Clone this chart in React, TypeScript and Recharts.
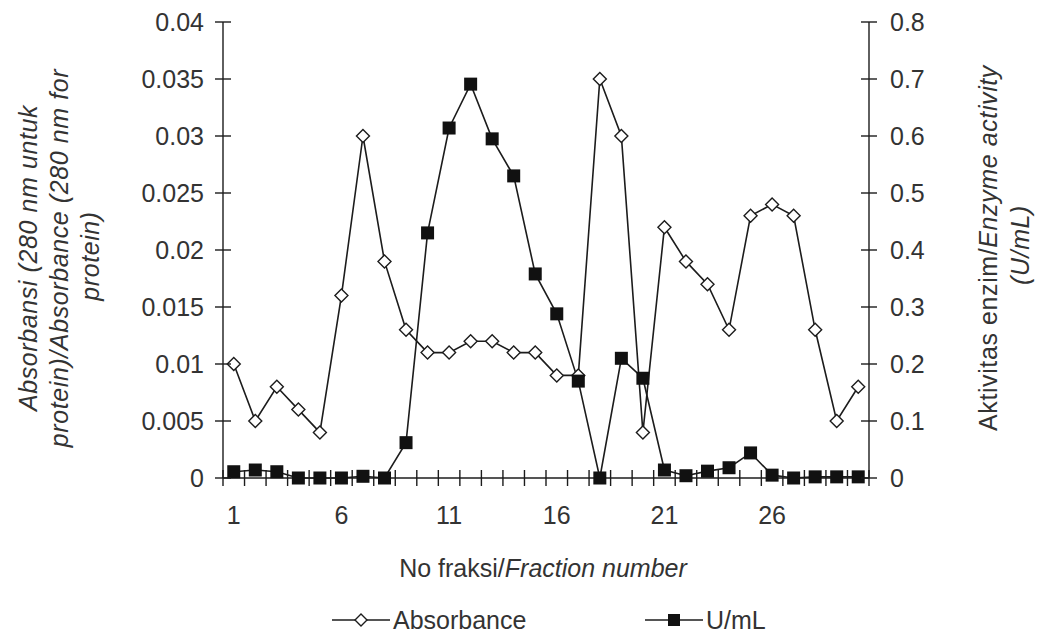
import React from "react";
import { LineChart, Line, XAxis, YAxis } from "recharts";

const fractions = [1, 2, 3, 4, 5, 6, 7, 8, 9, 10, 11, 12, 13, 14, 15, 16, 17, 18, 19, 20, 21, 22, 23, 24, 25, 26, 27, 28, 29, 30];
const absorbance = [0.01, 0.005, 0.008, 0.006, 0.004, 0.016, 0.03, 0.019, 0.013, 0.011, 0.011, 0.012, 0.012, 0.011, 0.011, 0.009, 0.009, 0.035, 0.03, 0.004, 0.022, 0.019, 0.017, 0.013, 0.023, 0.024, 0.023, 0.013, 0.005, 0.008];
const enzymeActivity = [0.011, 0.014, 0.011, 0, 0, 0, 0.003, 0, 0.062, 0.43, 0.614, 0.691, 0.595, 0.53, 0.358, 0.288, 0.17, 0, 0.21, 0.175, 0.014, 0.004, 0.012, 0.018, 0.044, 0.005, 0, 0.002, 0.002, 0.002];
const xTickLabels = [1, 6, 11, 16, 21, 26];
const leftTicks = [0, 0.005, 0.01, 0.015, 0.02, 0.025, 0.03, 0.035, 0.04];
const rightTicks = [0, 0.1, 0.2, 0.3, 0.4, 0.5, 0.6, 0.7, 0.8];

const data = fractions.map((f, i) => ({ fraction: f, absorbance: absorbance[i], activity: enzymeActivity[i] }));

// tick marks sit on the boundaries between fractions, labels on the fractions
const boundaries = fractions.map((f) => f - 0.5).concat(fractions[fractions.length - 1] + 0.5);
const xTicks = [...boundaries, ...xTickLabels].sort((a, b) => a - b);

const FONT = "'Liberation Sans', Arial, sans-serif";
const INK = "#1c1c1c";
const TEXT = "#333";

const XTick = ({ x, y, payload }: any) => {
  const v = payload.value;
  if (v % 1 !== 0) {
    return <line x1={x} x2={x} y1={y - 8} y2={y + 8} stroke={INK} strokeWidth={1.4} />;
  }
  return (
    <text x={x} y={y + 37} textAnchor="middle" dominantBaseline="central" fontSize={25} fill={TEXT} fontFamily={FONT}>
      {v}
    </text>
  );
};

const LeftTick = ({ x, y, payload }: any) => (
  <g>
    <line x1={x - 8} x2={x + 8} y1={y} y2={y} stroke={INK} strokeWidth={1.4} />
    <text x={x - 19} y={y} textAnchor="end" dominantBaseline="central" fontSize={25} fill={TEXT} fontFamily={FONT}>
      {payload.value}
    </text>
  </g>
);

const RightTick = ({ x, y, payload }: any) => (
  <g>
    <line x1={x - 8} x2={x + 8} y1={y} y2={y} stroke={INK} strokeWidth={1.4} />
    <text x={x + 21} y={y} textAnchor="start" dominantBaseline="central" fontSize={25} fill={TEXT} fontFamily={FONT}>
      {payload.value}
    </text>
  </g>
);

const rotated = (x: number, y: number, content: React.ReactNode, key: string) => (
  <text
    key={key}
    x={x}
    y={y}
    transform={`rotate(-90, ${x}, ${y})`}
    textAnchor="middle"
    dominantBaseline="central"
    fontSize={25}
    letterSpacing={0.6}
    fill={TEXT}
    fontFamily={FONT}
  >
    {content}
  </text>
);

const LeftTitle = () => (
  <g fontStyle="italic">
    {rotated(28, 258, "Absorbansi (280 nm untuk", "l1")}
    {rotated(59, 258, "protein)/Absorbance (280 nm for", "l2")}
    {rotated(90, 256, "protein)", "l3")}
  </g>
);

const RightTitle = () => (
  <g>
    {rotated(988, 248, <>Aktivitas enzim/<tspan fontStyle="italic">Enzyme activity</tspan></>, "r1")}
    {rotated(1020, 245, <tspan fontStyle="italic">(U/mL)</tspan>, "r2")}
  </g>
);

const XTitle = () => (
  <text x={543} y={568} textAnchor="middle" dominantBaseline="central" fontSize={25} fill={TEXT} fontFamily={FONT}>
    No fraksi/<tspan fontStyle="italic">Fraction number</tspan>
  </text>
);

const DiamondDot = (props: any) => {
  const { cx, cy, index } = props;
  const r = 6.5;
  return (
    <path
      key={`d-${index}`}
      d={`M${cx},${cy - r}L${cx + r},${cy}L${cx},${cy + r}L${cx - r},${cy}Z`}
      fill="#fff"
      stroke={INK}
      strokeWidth={1.4}
    />
  );
};

const SquareDot = (props: any) => {
  const { cx, cy, index } = props;
  return <rect key={`s-${index}`} x={cx - 6.5} y={cy - 6.5} width={13} height={13} fill="#111" />;
};

const LegendItem = ({ left, label, square }: { left: number; label: string; square?: boolean }) => (
  <div style={{ position: "absolute", left, top: 606, display: "flex", alignItems: "center", height: 28 }}>
    <svg width={58} height={20}>
      <line x1={0} x2={58} y1={10} y2={10} stroke={INK} strokeWidth={1.4} />
      {square ? (
        <rect x={23} y={4} width={12} height={12} fill="#111" />
      ) : (
        <path d="M29,4L35,10L29,16L23,10Z" fill="#fff" stroke={INK} strokeWidth={1.4} />
      )}
    </svg>
    <span style={{ marginLeft: 3, fontSize: 25, color: TEXT, fontFamily: FONT }}>{label}</span>
  </div>
);

const App = () => (
  <div style={{ position: "absolute", left: 0, top: 0, width: 1039, height: 632, background: "#fff" }}>
    <LineChart width={1039} height={632} data={data} margin={{ top: 22, right: 0, bottom: 0, left: 0 }}>
      <XAxis
        dataKey="fraction"
        type="number"
        domain={[0.5, 30.5]}
        ticks={xTicks}
        interval={0}
        tickSize={0}
        tickMargin={0}
        tickLine={false}
        tick={<XTick />}
        height={154}
        stroke={INK}
        strokeWidth={1.4}
        label={<XTitle />}
        xAxisId="x"
      />
      <YAxis
        yAxisId="left"
        domain={[0, 0.04]}
        ticks={leftTicks}
        interval={0}
        width={223}
        tickSize={0}
        tickMargin={0}
        tickLine={false}
        tick={<LeftTick />}
        stroke={INK}
        strokeWidth={1.4}
        label={<LeftTitle />}
      />
      <YAxis
        yAxisId="right"
        orientation="right"
        domain={[0, 0.8]}
        ticks={rightTicks}
        interval={0}
        width={170}
        tickSize={0}
        tickMargin={0}
        tickLine={false}
        tick={<RightTick />}
        stroke={INK}
        strokeWidth={1.4}
        label={<RightTitle />}
      />
      <Line
        xAxisId="x"
        yAxisId="left"
        type="linear"
        dataKey="absorbance"
        stroke={INK}
        strokeWidth={1.6}
        dot={DiamondDot}
        activeDot={false}
        isAnimationActive={false}
      />
      <Line
        xAxisId="x"
        yAxisId="right"
        type="linear"
        dataKey="activity"
        stroke={INK}
        strokeWidth={1.6}
        dot={SquareDot}
        activeDot={false}
        isAnimationActive={false}
      />
    </LineChart>
    <LegendItem left={332} label="Absorbance" />
    <LegendItem left={645} label="U/mL" square />
  </div>
);

export default App;
